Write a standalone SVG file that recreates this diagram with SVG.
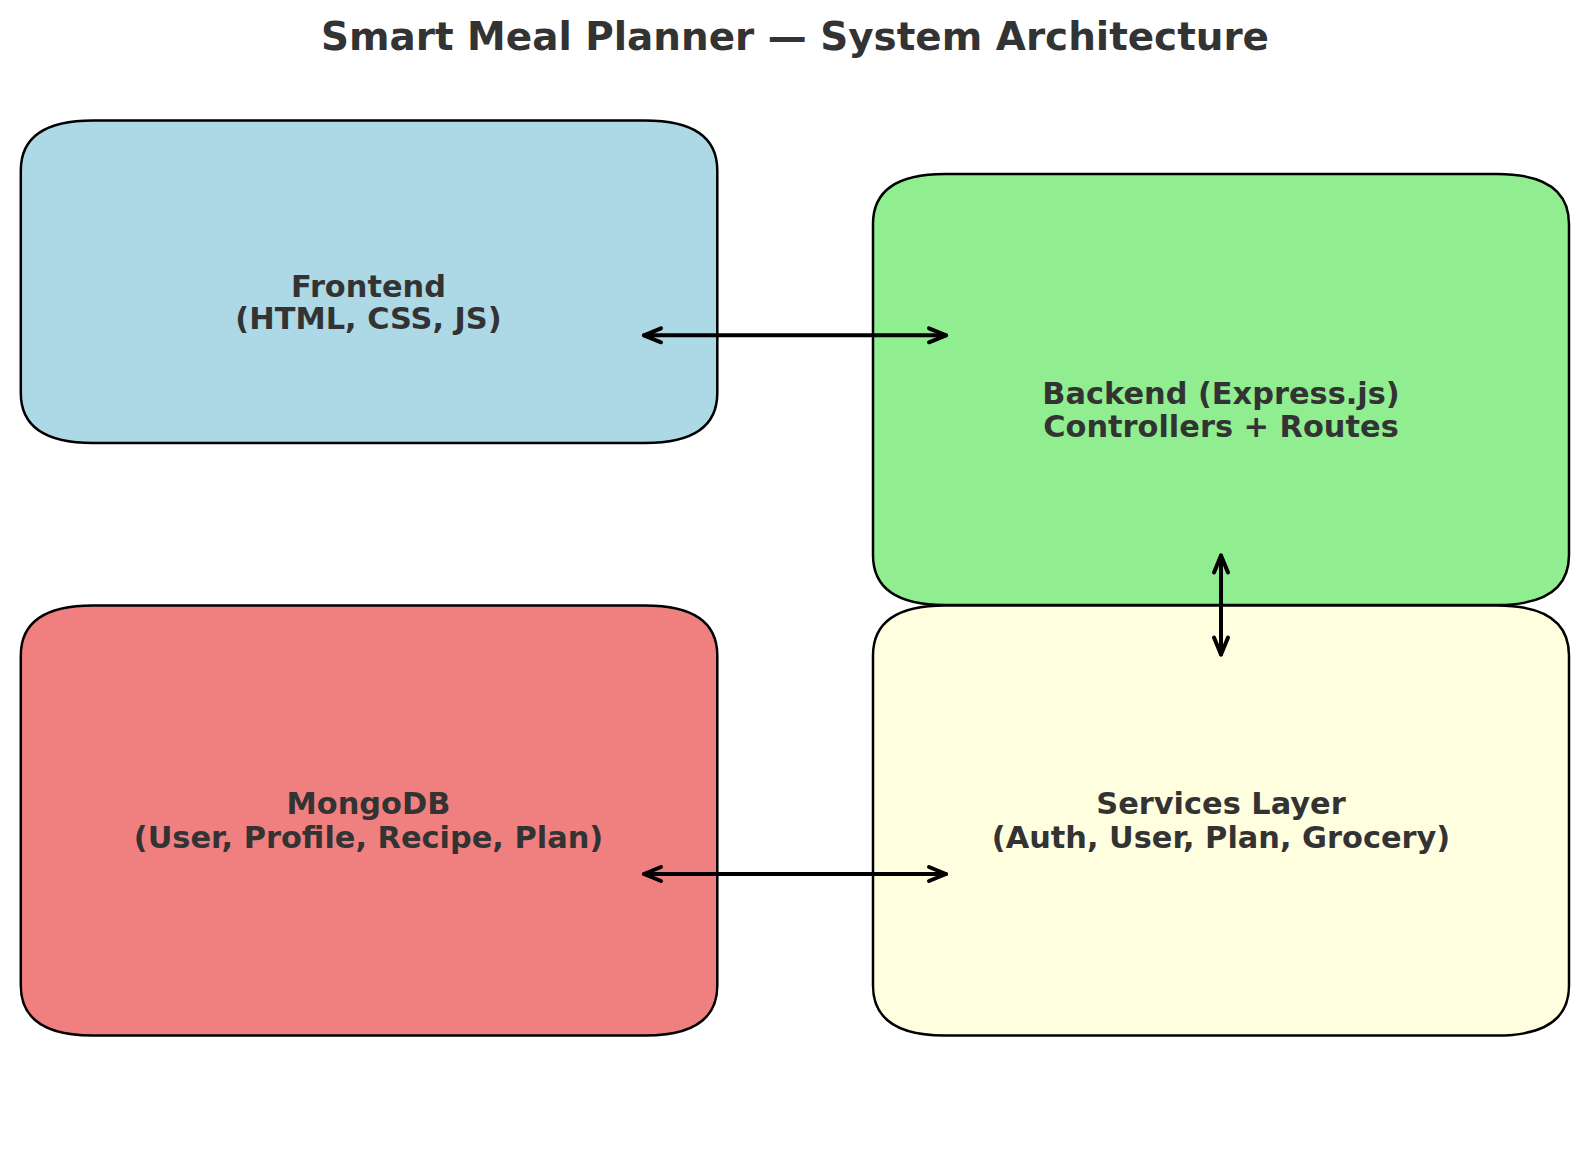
<svg xmlns="http://www.w3.org/2000/svg" width="1589" height="1164" viewBox="0 0 1589 1164">
<style>
.box{stroke:#000;stroke-width:2.5;stroke-linejoin:round}
.lbl{font-family:"DejaVu Sans",sans-serif;font-weight:bold;font-size:30.4px;fill:#333;text-anchor:middle}
.title{font-family:"DejaVu Sans",sans-serif;font-weight:bold;font-size:38.9px;fill:#333;text-anchor:middle}
.conn{stroke:#000;stroke-width:4;fill:none;stroke-linecap:round;marker-start:url(#chev);marker-end:url(#chev)}
</style>
<defs>
<marker id="chev" markerUnits="userSpaceOnUse" viewBox="-22 -10 26 20" refX="0" refY="0" markerWidth="26" markerHeight="20" orient="auto-start-reverse">
<path d="M -17 -7 L 0 0 L -17 7" fill="none" stroke="#000" stroke-width="4" stroke-linecap="round" stroke-linejoin="round"/>
</marker>
</defs>
<rect width="1589" height="1164" fill="#fff"/>
<text class="title" x="795" y="49.5">Smart Meal Planner — System Architecture</text>
<g id="frontend">
<path class="box" fill="#ADD8E6" d="M 93 120.5 L 645 120.5 Q 717.3 120.5 717.3 170.5 L 717.3 393 Q 717.3 443 645 443 L 93 443 Q 20.8 443 20.8 393 L 20.8 170.5 Q 20.8 120.5 93 120.5 Z"/>
<text class="lbl" x="368.5" y="297">Frontend</text>
<text class="lbl" x="368.5" y="329">(HTML, CSS, JS)</text>
</g>
<g id="backend">
<path class="box" fill="#90EE90" d="M 945 174 L 1497 174 Q 1569 174 1569 224 L 1569 555 Q 1569 605 1497 605 L 945 605 Q 873 605 873 555 L 873 224 Q 873 174 945 174 Z"/>
<text class="lbl" x="1221" y="404">Backend (Express.js)</text>
<text class="lbl" x="1221" y="437">Controllers + Routes</text>
</g>
<g id="mongodb">
<path class="box" fill="#F08080" d="M 93 605.5 L 645 605.5 Q 717.3 605.5 717.3 655.5 L 717.3 985.5 Q 717.3 1035.5 645 1035.5 L 93 1035.5 Q 20.8 1035.5 20.8 985.5 L 20.8 655.5 Q 20.8 605.5 93 605.5 Z"/>
<text class="lbl" x="368.5" y="814">MongoDB</text>
<text class="lbl" x="368.5" y="848">(User, Profile, Recipe, Plan)</text>
</g>
<g id="services">
<path class="box" fill="#FFFFE0" d="M 945 605.5 L 1497 605.5 Q 1569 605.5 1569 655.5 L 1569 985.5 Q 1569 1035.5 1497 1035.5 L 945 1035.5 Q 873 1035.5 873 985.5 L 873 655.5 Q 873 605.5 945 605.5 Z"/>
<text class="lbl" x="1221" y="814">Services Layer</text>
<text class="lbl" x="1221" y="848">(Auth, User, Plan, Grocery)</text>
</g>
<g id="connectors">
<line class="conn" x1="644" y1="335.3" x2="946" y2="335.3"/>
<line class="conn" x1="1221" y1="555.5" x2="1221" y2="654.5"/>
<line class="conn" x1="644" y1="874" x2="946" y2="874"/>
</g>
</svg>
